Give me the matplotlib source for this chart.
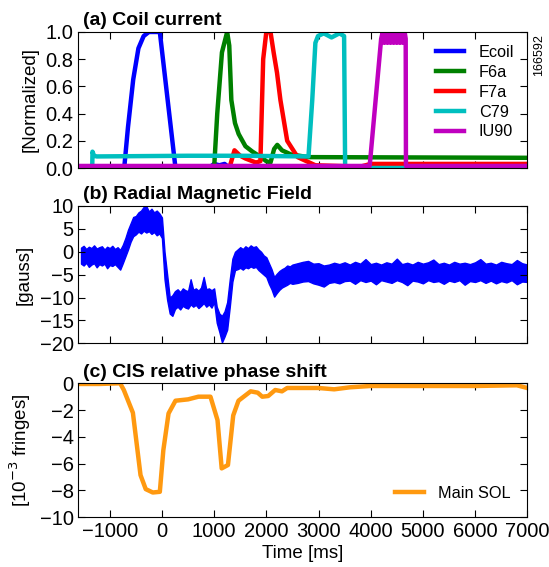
import matplotlib
matplotlib.use("Agg")
import matplotlib.pyplot as plt

plt.rcParams['font.family'] = ['Liberation Sans', 'DejaVu Sans']
plt.rcParams['xtick.direction'] = 'in'
plt.rcParams['ytick.direction'] = 'in'
plt.rcParams['xtick.top'] = True
plt.rcParams['ytick.right'] = True
plt.rcParams['xtick.major.size'] = 5
plt.rcParams['ytick.major.size'] = 5
plt.rcParams['xtick.labelsize'] = 14.5
plt.rcParams['ytick.labelsize'] = 14.5
plt.rcParams['axes.labelsize'] = 13.5

# (a) coil currents, normalized
t_ecoil = [-1600, -720, -650, -550, -450, -350, -250, -40, 260, 900, 1000, 1100, 1200, 1300, 7000]
ecoil = [0.01, 0.01, 0.3, 0.65, 0.88, 0.97, 1.0, 1.0, 0.0, 0.0, 0.03, 0.02, 0.03, 0.0, 0.0]

t_f6a = [-1600, 1000, 1060, 1150, 1250, 1290, 1330, 1400, 1470, 1600, 1735, 1900, 2000, 2080, 2150, 2210, 2300, 2470, 2800, 7000]
f6a = [0.0, 0.0, 0.4, 0.85, 1.0, 0.9, 0.5, 0.33, 0.25, 0.16, 0.12, 0.08, 0.05, 0.04, 0.14, 0.17, 0.13, 0.1, 0.08, 0.075]

t_f7a = [-1600, 1300, 1390, 1500, 1600, 1800, 1887, 1940, 2000, 2080, 2140, 2205, 2270, 2400, 2600, 2940, 3800, 4000, 7000]
f7a = [0.01, 0.01, 0.13, 0.09, 0.07, 0.04, 0.05, 0.8, 1.0, 1.0, 0.85, 0.7, 0.5, 0.2, 0.08, 0.02, 0.01, 0.03, 0.03]

t_c79 = [-1600, -1335, -1330, -1300, -1250, 500, 1500, 2808, 2880, 2940, 2990, 3100, 3250, 3400, 3490, 3510, 7000]
c79 = [0.0, 0.0, 0.12, 0.09, 0.085, 0.09, 0.09, 0.085, 0.5, 0.92, 0.97, 0.99, 0.96, 0.99, 0.97, 0.0, 0.0]

t_iu90 = [-1600, 3980, 4200, 4230, 4260, 4290, 4320, 4350, 4380, 4410, 4440, 4470, 4500, 4530, 4560, 4590, 4620, 4650, 4670, 4675, 7000]
iu90 = [0.015, 0.015, 0.95, 1.0, 0.92, 1.0, 0.92, 1.0, 0.92, 1.0, 0.92, 1.0, 0.92, 1.0, 0.92, 1.0, 0.92, 1.0, 0.95, 0.015, 0.015]

# (b) radial magnetic field, upper / lower edge of the noisy trace
t_b = [-1550, -1500, -1450, -1400, -1350, -1300, -1250, -1200, -1150, -1100, -1050, -1000, -950, -900, -850, -800,
       -750, -700, -650, -600, -550, -500, -450, -400, -350, -300, -250, -200, -150, -100, -50, 0,
       50, 100, 150, 200, 250, 300, 350, 400, 450, 500, 550, 600, 650, 700, 750, 800, 850, 900, 950, 1000,
       1050, 1100, 1150, 1200, 1250, 1300, 1350, 1400, 1450, 1500, 1550, 1600, 1650, 1700, 1750, 1800,
       1850, 1900, 1950, 2000, 2050, 2100, 2150, 2200, 2250, 2300, 2350, 2400, 2450, 2500,
       2600, 2700, 2800, 2900, 3000, 3100, 3200, 3300, 3400, 3500, 3600, 3700, 3800, 3900, 4000,
       4100, 4200, 4300, 4400, 4500, 4600, 4700, 4800, 4900, 5000, 5100, 5200, 5300, 5400, 5500,
       5600, 5700, 5800, 5900, 6000, 6100, 6200, 6300, 6400, 6500, 6600, 6700, 6800, 6900, 7000]
b_upper = [0.9, 1.3, 0.6, 1.1, 0.8, 1.4, 0.7, 1.0, 1.2, 0.5, 1.1, 0.8, 1.3, 0.6, 1.0, 0.4,
           1.5, 3.0, 4.8, 6.2, 7.6, 7.8, 8.6, 9.0, 9.8, 10.0, 8.8, 9.4, 8.6, 9.0, 8.4, 7.5,
           0.0, -5.0, -10.0, -9.5, -8.6, -8.2, -8.8, -8.0, -8.4, -8.6, -6.0, -8.3, -8.0, -8.5, -7.8, -5.5, -8.2, -8.0, -8.4, -8.0,
           -12.0, -13.5, -14.0, -13.0, -11.0, -6.0, -1.5, 0.0, 0.5, 1.0, 0.6, 1.2, 0.8, 1.4, 1.0, 1.2,
           0.5, 0.0, -0.8, -1.2, -2.5, -3.8, -5.5, -4.8, -4.2, -3.8, -3.5, -3.0, -3.2, -2.8,
           -2.5, -2.2, -2.0, -2.6, -2.5, -3.0, -2.8, -2.4, -2.7, -2.3, -2.8, -2.2, -2.6, -1.6, -2.7,
           -2.4, -2.8, -2.3, -2.6, -1.5, -2.7, -2.4, -2.8, -2.2, -2.6, -2.3, -1.7, -2.7, -2.4, -2.8,
           -2.2, -2.6, -2.4, -2.7, -2.3, -1.6, -2.6, -2.4, -2.8, -2.2, -2.5, -2.7, -1.8, -2.5, -2.8]
b_lower = [-2.6, -3.0, -2.4, -3.3, -2.8, -2.5, -3.4, -2.7, -3.0, -2.6, -3.6, -2.9, -3.1, -2.7, -3.3, -3.9,
           -2.5, -1.0, 0.5, 2.2, 3.4, 3.8, 4.4, 4.0, 4.6, 4.2, 4.5, 3.9, 4.3, 3.6, 4.0, 3.0,
           -6.0, -10.5, -13.5, -14.0, -12.5, -12.0, -12.6, -11.8, -12.2, -12.4, -11.5, -12.0, -11.6, -12.3, -11.8, -11.2, -12.0, -11.5, -12.2, -11.0,
           -15.5, -17.5, -19.8, -18.5, -17.0, -12.0, -6.5, -4.0, -3.8, -3.5, -3.9, -3.4, -3.6, -3.2, -3.5, -3.3,
           -4.0, -4.5, -5.0, -5.5, -7.0, -8.2, -9.8, -9.0, -8.3, -7.8, -7.5, -7.2, -6.8, -7.0,
           -6.8, -6.5, -6.4, -6.9, -7.2, -7.6, -6.8, -6.6, -6.9, -6.4, -6.3, -7.0, -6.2, -6.6, -6.3,
           -7.1, -6.2, -6.5, -6.8, -6.2, -6.6, -7.3, -6.3, -6.5, -6.9, -6.2, -6.6, -6.4, -7.0, -6.3,
           -6.6, -6.2, -7.2, -6.4, -6.6, -6.2, -6.8, -6.3, -6.9, -6.4, -6.7, -6.2, -7.1, -6.5, -6.6]

# (c) CIS relative phase shift
t_cis = [-1600, -1200, -800, -730, -556, -410, -310, -175, -40, 27, 127, 260, 500, 700, 930, 1065, 1145, 1265,
         1366, 1467, 1700, 1835, 1922, 2036, 2170, 2300, 2400, 3000, 3300, 3600, 4000, 5000, 6000, 6800, 7000]
cis = [-0.05, -0.05, 0.0, -0.5, -2.2, -6.85, -7.9, -8.15, -8.1, -5.0, -2.25, -1.3, -1.2, -1.0, -1.0, -2.75, -6.35, -6.1,
       -2.4, -1.3, -0.6, -0.7, -1.0, -0.95, -0.5, -0.6, -0.35, -0.35, -0.45, -0.3, -0.2, -0.2, -0.2, -0.15, -0.35]

fig = plt.figure(figsize=(5.49, 5.67), dpi=100)
ax1 = fig.add_axes([0.1428, 0.7037, 0.8177, 0.2399])
ax2 = fig.add_axes([0.1428, 0.3945, 0.8177, 0.2422])
ax3 = fig.add_axes([0.1428, 0.0877, 0.8177, 0.2363])

lw = 3.2
ax1.plot(t_ecoil, ecoil, color=(0, 0, 1), lw=lw, label="Ecoil")
ax1.plot(t_f6a, f6a, color=(0, 0.5, 0), lw=lw, label="F6a")
ax1.plot(t_f7a, f7a, color=(1, 0, 0), lw=lw, label="F7a")
ax1.plot(t_c79, c79, color=(0, 0.75, 0.75), lw=lw, label="C79")
ax1.plot(t_iu90, iu90, color=(0.75, 0, 0.75), lw=lw, label="IU90")
ax1.set_ylim(0, 1)
ax1.set_yticks([0, 0.2, 0.4, 0.6, 0.8, 1.0])
ax1.set_ylabel("[Normalized]", labelpad=5)
ax1.legend(loc="upper right", frameon=False, fontsize=11.7, handlelength=1.75,
           handletextpad=0.9, labelspacing=0.3, borderaxespad=0.4)
fig.text(0.982, 0.94, "166592", rotation=90, va="top", ha="center", fontsize=9)

ax2.fill_between(t_b, b_lower, b_upper, color=(0, 0, 1), lw=1)
ax2.set_ylim(-20, 10)
ax2.set_yticks([-20, -15, -10, -5, 0, 5, 10])
ax2.set_ylabel("[gauss]", labelpad=5)

ax3.plot(t_cis, cis, color="#ff9910", lw=lw, label="Main SOL")
ax3.set_ylim(-10, 0)
ax3.set_yticks([-10, -8, -6, -4, -2, 0])
ax3.set_ylabel("[10$^{-3}$ fringes]", labelpad=5)
ax3.set_xlabel("Time [ms]", labelpad=3)
ax3.legend(loc="lower right", frameon=False, fontsize=11.7, handlelength=1.75,
           handletextpad=0.9, borderaxespad=0.6)

titles = ["(a) Coil current", "(b) Radial Magnetic Field", "(c) CIS relative phase shift"]
for ax, title in zip([ax1, ax2, ax3], titles):
    ax.set_xlim(-1600, 7000)
    ax.set_xticks(range(-1000, 7001, 1000))
    ax.text(0.011, 1.02, title, transform=ax.transAxes, fontsize=14,
            fontweight="bold", ha="left", va="bottom")
ax1.set_xticklabels([])
ax2.set_xticklabels([])

fig.savefig("out.png", dpi=100)
